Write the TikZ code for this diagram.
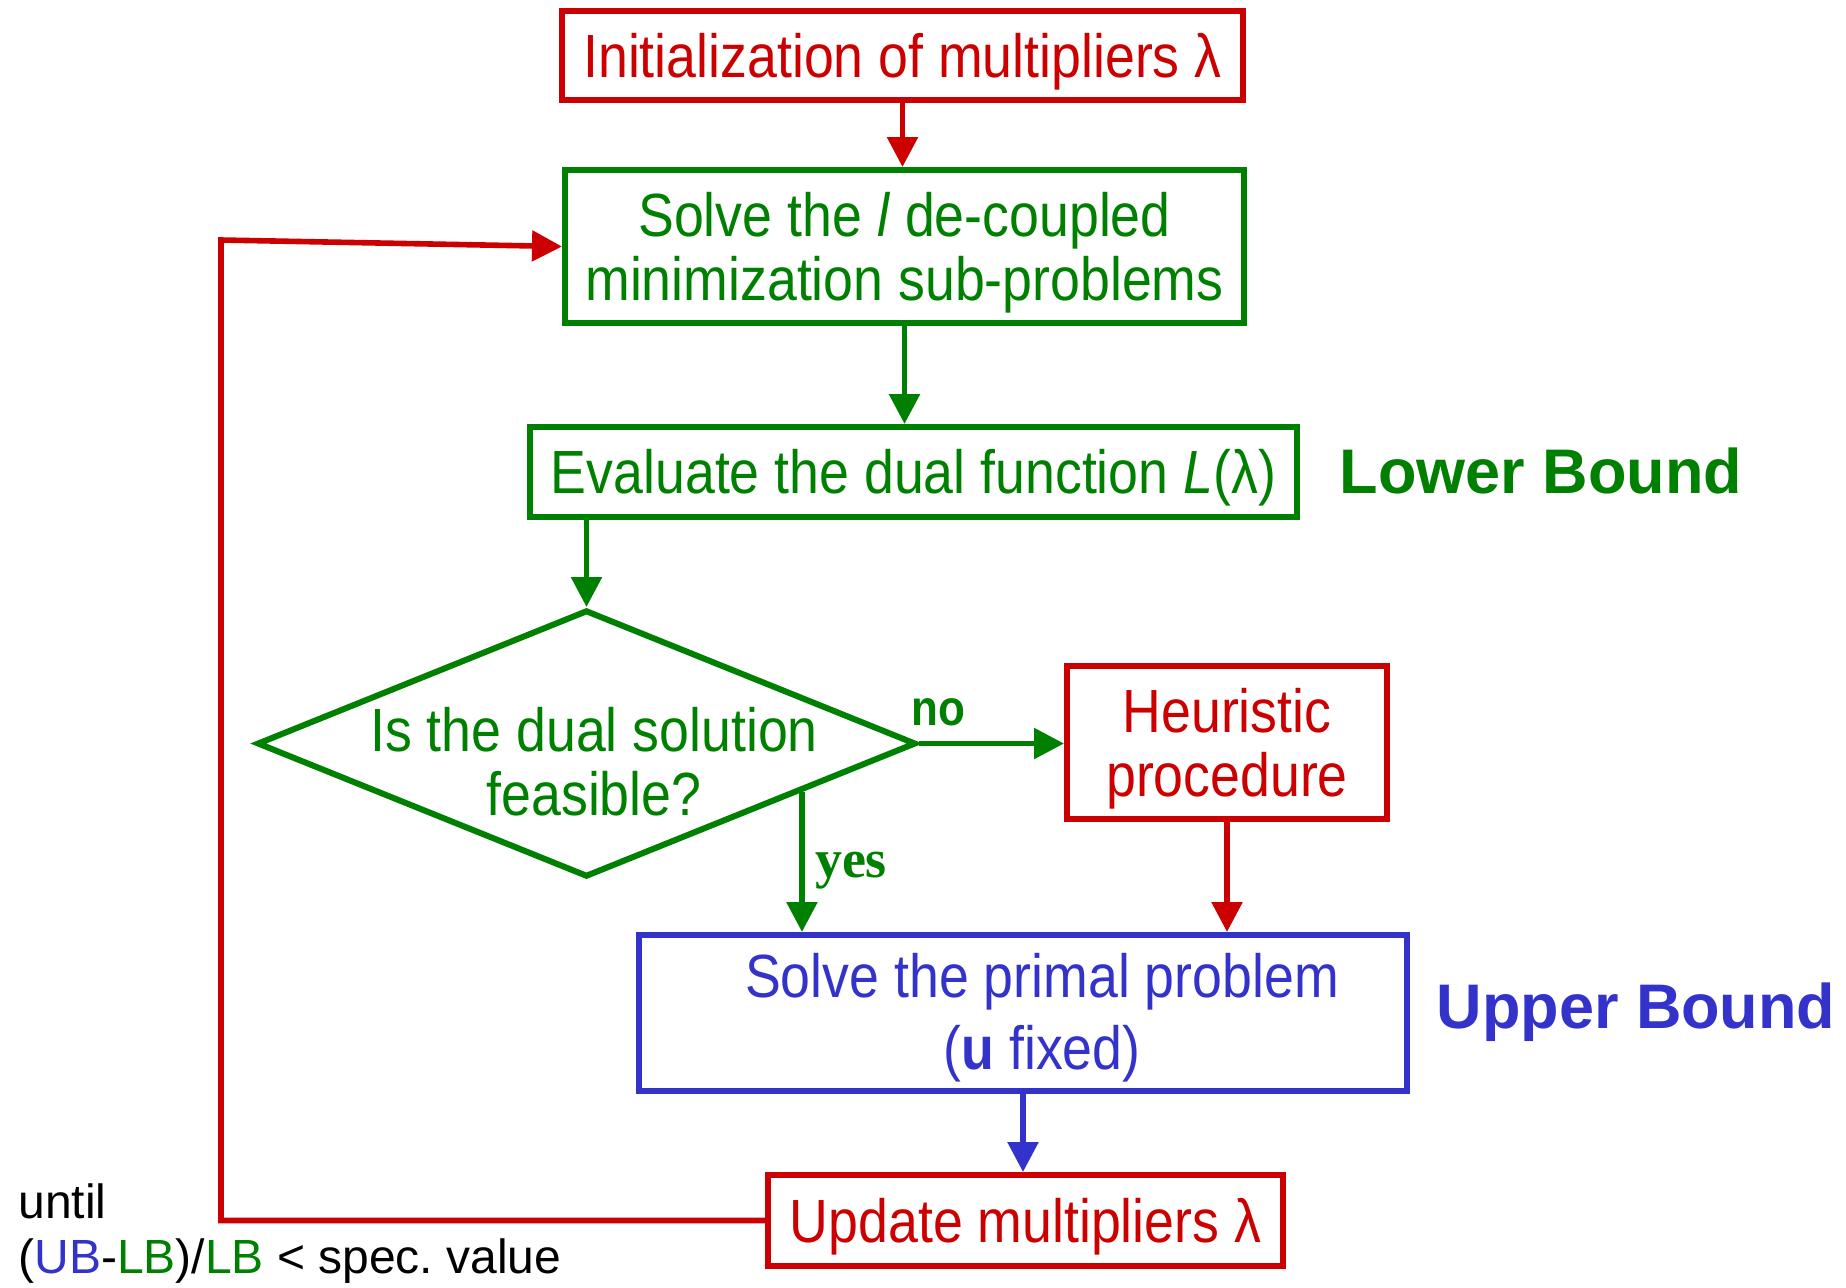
\documentclass[tikz,border=0pt]{standalone}
\usepackage{fontspec}
\setmainfont{Liberation Sans}
\newfontfamily\boxfont[FakeStretch=0.88]{Liberation Sans}
\newfontfamily\serifbf{Liberation Serif}
\usetikzlibrary{arrows.meta,shapes.geometric,calc}
\definecolor{cred}{RGB}{204,0,0}
\definecolor{cgreen}{RGB}{0,128,0}
\definecolor{cblue}{RGB}{51,51,204}
\begin{document}
\begin{tikzpicture}[x=0.5pt,y=-0.5pt,
  boxshape/.style={draw, line width=3pt, inner sep=0pt},
  boxtext/.style={inner sep=0pt, align=center,
    font=\boxfont\fontsize{30.5}{32}\selectfont},
  conn/.style={line width=2.8pt, -{Triangle[length=15pt,width=15pt]}},
  boundlbl/.style={font=\bfseries\fontsize{31.5}{36}\selectfont, inner sep=0pt},
  yn/.style={inner sep=0pt, text=cgreen},
]
\useasboundingbox (0,0) rectangle (1846,1287);

% boxes
\node[boxshape, cred, minimum width=340.5pt, minimum height=44.5pt] (init) at (902.5,55.5) {};
\node[boxshape, cgreen, minimum width=339.5pt, minimum height=76.5pt] (solve) at (904.5,246.5) {};
\node[boxshape, cgreen, minimum width=383.5pt, minimum height=45pt] (eval) at (913.5,472) {};
\node[draw=cgreen, line width=3pt, shape=diamond, inner sep=0pt,
  minimum width=329.5pt, minimum height=133.5pt] (dia) at (586.5,743.5) {};
\node[boxshape, cred, minimum width=160pt, minimum height=76.5pt] (heur) at (1227,742.5) {};
\node[boxshape, cblue, minimum width=384pt, minimum height=78pt] (prim) at (1023,1013) {};
\node[boxshape, cred, minimum width=257.5pt, minimum height=45.5pt] (upd) at (1025.5,1220.5) {};

% texts
\node[boxtext, text=cred] (initt) at ($(init.center)+(0,6)$) {Initialization of multipliers λ};
\node[boxtext, text=cgreen] (solvet) at ($(solve.center)+(0,6)$)
  {Solve the \textit{l} de-coupled\\minimization sub-problems};
\node[boxtext, text=cgreen] (evalt) at ($(eval.center)+(0,6)$)
  {Evaluate the dual function \textit{L}(λ)};
\node[boxtext, text=cgreen] (diatext) at (594,762) {Is the dual solution\\feasible?};
\node[boxtext, text=cred] (heurt) at ($(heur.center)+(0,6)$) {Heuristic\\procedure};
\node[boxtext, text=cblue, font=\boxfont\fontsize{30.5}{36}\selectfont] (primt)
  at ($(prim.center)+(19,5)$) {Solve the primal problem\\(\textbf{u} fixed)};
\node[boxtext, text=cred] (updt) at ($(upd.center)+(0,6)$) {Update multipliers λ};

\node[boundlbl, text=cgreen] (lb) at (1541,471) {Lower Bound};
\node[boundlbl, text=cblue] (ub) at (1636,1012) {Upper Bound};

\node[anchor=base west, inner sep=0pt, font=\fontsize{24}{28}\selectfont] (until1) at (18,1218) {until};
\node[anchor=base west, inner sep=0pt, font=\fontsize{24}{28}\selectfont] (until2) at (18,1273)
  {(\textcolor{cblue}{UB}-\textcolor{cgreen}{LB})/\textcolor{cgreen}{LB} < spec.\ value};

\node[yn, font=\bfseries\boxfont\fontsize{25}{28}\selectfont] (no) at (938,712) {no};
\node[yn, font=\serifbf\bfseries\fontsize{27}{30}\selectfont] (yes) at (851,871) {yes};

% connectors
\draw[conn, cred] (init.south) -- (init.south |- solve.north);
\draw[conn, cgreen] (solve.south) -- (solve.south |- eval.north);
\draw[conn, cgreen] (eval.south -| dia.north) -- (dia.north);
\draw[conn, cgreen] (dia.east) -- (dia.east -| heur.west);
\coordinate (yesstart) at ($(dia.east)!0.352!(dia.south)$);
\draw[conn, cgreen] (yesstart) -- (yesstart |- prim.north);
\draw[conn, cred] (heur.south) -- (heur.south |- prim.north);
\draw[conn, cblue] (prim.south) -- (prim.south |- upd.north);
\coordinate (fb) at (221,240);
\draw[conn, cred] (upd.west) -| (fb) -- (solve.west);
\end{tikzpicture}
\end{document}
